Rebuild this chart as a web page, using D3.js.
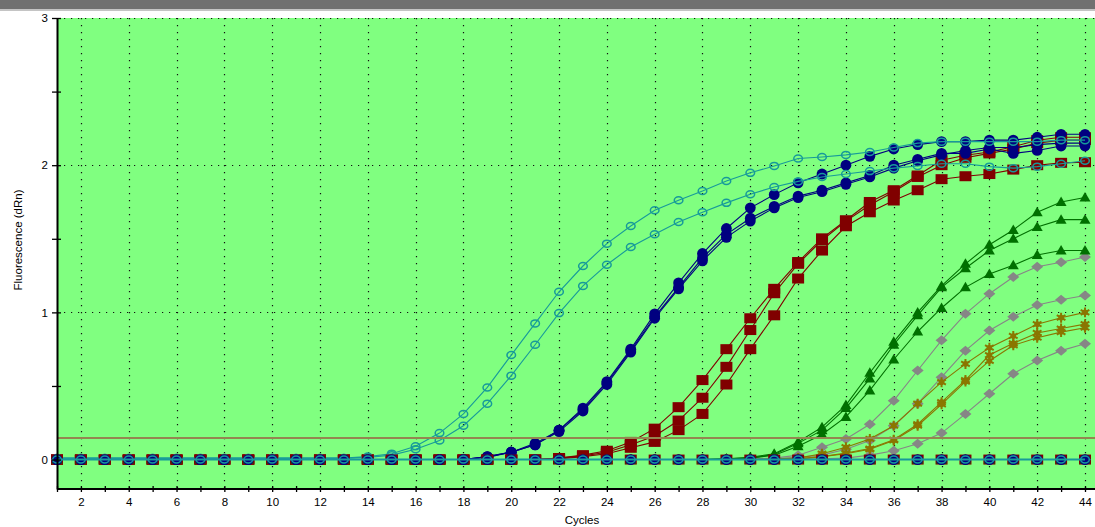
<!DOCTYPE html>
<html>
<head>
<meta charset="utf-8">
<script src="https://cdn.jsdelivr.net/npm/d3@7"></script>
<style>
  html, body { margin: 0; padding: 0; background: #ffffff; }
  svg { display: block; }
  text { font-family: "Liberation Sans", Arial, sans-serif; fill: #000; }
</style>
</head>
<body>
<svg id="chart" width="1095" height="527"></svg>
<script>
// ---------------- DATA ----------------
const cycles = [1,2,3,4,5,6,7,8,9,10,11,12,13,14,15,16,17,18,19,20,21,22,23,24,25,26,27,28,29,30,31,32,33,34,35,36,37,38,39,40,41,42,43,44];
const xTickLabels = [2,4,6,8,10,12,14,16,18,20,22,24,26,28,30,32,34,36,38,40,42,44];
const yTickLabels = [0,1,2,3];
const thresholdValue = 0.146;

const teal1 = [0.01,0.01,0.01,0.01,0.01,0.01,0.01,0.01,0.01,0.01,0.01,0.01,0.01,0.02,0.04,0.09,0.18,0.31,0.49,0.71,0.925,1.14,1.315,1.467,1.587,1.694,1.762,1.825,1.893,1.948,1.995,2.045,2.056,2.07,2.09,2.12,2.15,2.16,2.16,2.16,2.16,2.16,2.17,2.17];
const teal2 = [0.01,0.01,0.01,0.01,0.01,0.01,0.01,0.01,0.01,0.01,0.01,0.01,0.01,0.015,0.03,0.07,0.13,0.23,0.38,0.57,0.78,0.995,1.18,1.324,1.444,1.531,1.614,1.68,1.744,1.803,1.852,1.89,1.92,1.94,1.96,1.98,1.995,2.01,2.01,1.99,1.98,1.99,2.01,2.03];

const navy1 = [0,0,0,0,0,0,0,0,0,0, 0,0,0,0,0,0,0,0, 0.02,0.05,0.11,0.2,0.35,0.53,0.75,0.99,1.2,1.4, 1.57,1.71,1.80,1.88,1.94,2.0,2.06,2.11,2.14,2.16, 2.16,2.17,2.17,2.19,2.21,2.21];
const navy2 = [0,0,0,0,0,0,0,0,0,0, 0,0,0,0,0,0,0,0, 0.02,0.05,0.1,0.2,0.34,0.52,0.74,0.97,1.17,1.37, 1.53,1.64,1.72,1.79,1.83,1.88,1.93,2.0,2.04,2.08, 2.08,2.11,2.08,2.10,2.13,2.13];
const navy3 = [0,0,0,0,0,0,0,0,0,0, 0,0,0,0,0,0,0,0, 0.015,0.05,0.1,0.19,0.33,0.51,0.73,0.96,1.16,1.35, 1.51,1.62,1.71,1.78,1.82,1.87,1.92,1.98,2.03,2.07, 2.1,2.12,2.12,2.14,2.15,2.15];

const red1 = [0,0,0,0,0,0,0,0,0,0, 0,0,0,0,0,0,0,0,0,0, 0, 0.01,0.03,0.06,0.12,0.21,0.356,0.54,0.75,0.96, 1.16,1.342,1.503,1.626,1.75,1.83,1.93,2.034,2.068,2.09, 2.125,2.17,2.19,2.19];
const red2 = [0,0,0,0,0,0,0,0,0,0, 0,0,0,0,0,0,0,0,0,0, 0, 0.01,0.025,0.05,0.1,0.16,0.265,0.42,0.63,0.88, 1.13,1.33,1.49,1.62,1.73,1.82,1.92,2.0,2.05,2.08, 2.11,2.15,2.17,2.17];
const red3 = [0,0,0,0,0,0,0,0,0,0, 0,0,0,0,0,0,0,0,0,0, 0, 0.005,0.02,0.04,0.08,0.12,0.2,0.31,0.51,0.75, 0.98,1.23,1.42,1.585,1.68,1.76,1.83,1.905,1.925,1.94, 1.97,2.0,2.016,2.02];

const green1 = [0,0,0,0,0,0,0,0,0,0, 0,0,0,0,0,0,0,0,0,0, 0,0,0,0,0,0,0,0, 0.005,0.015,0.04,0.12,0.22,0.37,0.59,0.80,1.0,1.18,1.33,1.46,1.56,1.68,1.75,1.78];
const green2 = [0,0,0,0,0,0,0,0,0,0, 0,0,0,0,0,0,0,0,0,0, 0,0,0,0,0,0,0,0, 0.005,0.01,0.035,0.11,0.20,0.35,0.55,0.78,0.98,1.17,1.30,1.42,1.50,1.58,1.63,1.63];
const green3 = [0,0,0,0,0,0,0,0,0,0, 0,0,0,0,0,0,0,0,0,0, 0,0,0,0,0,0,0,0, 0,0.01,0.03,0.09,0.17,0.29,0.47,0.68,0.87,1.03,1.17,1.26,1.32,1.39,1.42,1.42];

const gray1 = [0,0,0,0,0,0,0,0,0,0, 0,0,0,0,0,0,0,0,0,0, 0,0,0,0,0,0,0,0,0, 0.005,0.01,0.03,0.084,0.14,0.24,0.40,0.605,0.81,0.99,1.127,1.24,1.31,1.34,1.376];
const gray2 = [0,0,0,0,0,0,0,0,0,0, 0,0,0,0,0,0,0,0,0,0, 0,0,0,0,0,0,0,0,0, 0,0.005,0.015,0.03,0.07,0.13,0.23,0.38,0.56,0.74,0.877,0.97,1.05,1.086,1.115];
const gray3 = [0,0,0,0,0,0,0,0,0,0, 0,0,0,0,0,0,0,0,0,0, 0,0,0,0,0,0,0,0,0, 0,0,0,0.005,0.01,0.03,0.06,0.107,0.18,0.31,0.447,0.583,0.673,0.74,0.787];

const olive1 = [0,0,0,0,0,0,0,0,0,0, 0,0,0,0,0,0,0,0,0,0, 0,0,0,0,0,0,0,0,0, 0,0.005,0.01,0.04,0.084,0.14,0.23,0.38,0.526,0.65,0.76,0.84,0.92,0.964,1.0];
const olive2 = [0,0,0,0,0,0,0,0,0,0, 0,0,0,0,0,0,0,0,0,0, 0,0,0,0,0,0,0,0,0, 0,0,0.005,0.02,0.045,0.075,0.135,0.24,0.39,0.54,0.71,0.79,0.86,0.89,0.92];
const olive3 = [0,0,0,0,0,0,0,0,0,0, 0,0,0,0,0,0,0,0,0,0, 0,0,0,0,0,0,0,0,0, 0,0,0.005,0.02,0.04,0.07,0.13,0.23,0.375,0.53,0.67,0.776,0.828,0.866,0.896];

// negative controls (flat at zero)
const ntc = [0,0,0,0,0,0,0,0,0,0, 0,0,0,0,0,0,0,0,0,0, 0,0,0,0,0,0,0,0,0,0, 0,0,0,0,0,0,0,0,0,0, 0,0,0,0];

// ---------------- STYLE ----------------
const C = {
  teal: "#179a9a", navy: "#000080", red: "#800000",
  green: "#007000", gray: "#868686", olive: "#8a7600"
};

const series = [
  {v: gray1, c: C.gray, m: "diamond"}, {v: gray2, c: C.gray, m: "diamond"}, {v: gray3, c: C.gray, m: "diamond"},
  {v: olive1, c: C.olive, m: "star"}, {v: olive2, c: C.olive, m: "star"}, {v: olive3, c: C.olive, m: "star"},
  {v: green1, c: C.green, m: "triangle"}, {v: green2, c: C.green, m: "triangle"}, {v: green3, c: C.green, m: "triangle"},
  {v: red1, c: C.red, m: "square"}, {v: red2, c: C.red, m: "square"}, {v: red3, c: C.red, m: "square"},
  {v: navy1, c: C.navy, m: "circle"}, {v: navy2, c: C.navy, m: "circle"}, {v: navy3, c: C.navy, m: "circle"},
  {v: teal1, c: C.teal, m: "open"}, {v: teal2, c: C.teal, m: "open"},
  // negative controls
  {v: ntc, c: C.red, m: "square"},
  {v: ntc, c: C.green, m: "triangle"},
  {v: ntc, c: C.gray, m: "diamond"},
  {v: ntc, c: C.olive, m: "star"},
  {v: ntc, c: C.navy, m: "circle"},
  {v: ntc, c: C.teal, m: "open", lw: 2}
];

// ---------------- CHART ----------------
const svg = d3.select("#chart");
const W = 1095, H = 527;
const pLeft = 57, pTop = 18, pBottom = 489, pRight = 1095;

const x = d3.scaleLinear().domain([1, 44]).range([pLeft, 1085]);
const y = d3.scaleLinear().domain([-0.2, 3]).range([pBottom, pTop]);

// window title strip
svg.append("rect").attr("x", 0).attr("y", 0).attr("width", W).attr("height", 9).attr("fill", "#707070");
svg.append("rect").attr("x", 0).attr("y", 9).attr("width", W).attr("height", 2).attr("fill", "#c4c4c4");

// plot background
svg.append("rect").attr("x", pLeft).attr("y", pTop).attr("width", pRight - pLeft).attr("height", pBottom - pTop).attr("fill", "#80ff80");

// grid
const grid = svg.append("g");
grid.selectAll("line.v").data(xTickLabels).join("line")
  .attr("x1", d => Math.round(x(d)) + 0.5).attr("x2", d => Math.round(x(d)) + 0.5)
  .attr("y1", pTop).attr("y2", pBottom)
  .attr("stroke", "#111").attr("stroke-width", 1.2).attr("stroke-dasharray", "1.2,5.8");
grid.selectAll("line.h").data([1, 2, 3]).join("line")
  .attr("x1", pLeft).attr("x2", pRight)
  .attr("y1", d => Math.round(y(d)) + 0.5).attr("y2", d => Math.round(y(d)) + 0.5)
  .attr("stroke", "#111").attr("stroke-width", 1.2).attr("stroke-dasharray", "1.2,5.8");

// clip for plot
svg.append("clipPath").attr("id", "clip").append("rect")
  .attr("x", pLeft - 6).attr("y", pTop).attr("width", pRight - pLeft + 6).attr("height", pBottom - pTop);

const plot = svg.append("g").attr("clip-path", "url(#clip)");

const line = d3.line().x((d, i) => x(cycles[i])).y(d => y(d));

function drawMarker(g, type, color, cx, cy) {
  if (type === "circle") {
    g.append("circle").attr("cx", cx).attr("cy", cy).attr("r", 5.4).attr("fill", color);
  } else if (type === "square") {
    g.append("rect").attr("x", cx - 6).attr("y", cy - 5).attr("width", 12).attr("height", 10).attr("fill", color);
  } else if (type === "triangle") {
    g.append("path").attr("d", `M${cx},${cy - 5.5}L${cx + 5.5},${cy + 4}L${cx - 5.5},${cy + 4}Z`).attr("fill", color);
  } else if (type === "diamond") {
    g.append("path").attr("d", `M${cx},${cy - 5}L${cx + 6},${cy}L${cx},${cy + 5}L${cx - 6},${cy}Z`).attr("fill", color);
  } else if (type === "star") {
    g.append("path").attr("d", d3.symbol().type(d3.symbolAsterisk).size(70)())
      .attr("transform", `translate(${cx},${cy})`).attr("stroke", color).attr("stroke-width", 2).attr("fill", "none");
    g.append("circle").attr("cx", cx).attr("cy", cy).attr("r", 2.8).attr("fill", color);
  } else if (type === "open") {
    g.append("ellipse").attr("cx", cx).attr("cy", cy).attr("rx", 4.3).attr("ry", 3.5)
      .attr("fill", "none").attr("stroke", color).attr("stroke-width", 1.5);
  }
}

series.forEach(s => {
  const g = plot.append("g");
  g.append("path").datum(s.v).attr("d", line)
    .attr("fill", "none").attr("stroke", s.c).attr("stroke-width", s.lw || 1.1);
  s.v.forEach((v, i) => drawMarker(g, s.m, s.c, x(cycles[i]), y(v)));
});

// threshold line
const ty = Math.round(y(thresholdValue));
svg.append("line").attr("x1", pLeft).attr("x2", pRight)
  .attr("y1", ty).attr("y2", ty)
  .attr("stroke", "#948650").attr("stroke-width", 2);

// axes
const yAxis = d3.axisLeft(y)
  .tickValues([0, 0.5, 1, 1.5, 2, 2.5, 3])
  .tickFormat(d => yTickLabels.includes(d) ? String(d) : "")
  .tickSizeInner(5).tickSizeOuter(0).tickPadding(4);
const gy = svg.append("g").attr("transform", `translate(${pLeft},0)`).call(yAxis);
gy.select(".domain").attr("stroke", "#000").attr("stroke-width", 2);
gy.selectAll(".tick line").attr("x1", 4).attr("stroke-width", 1.3);
gy.selectAll(".tick text").attr("font-size", 11.5).attr("font-family", "Liberation Sans, Arial, sans-serif");

const xAxis = d3.axisBottom(x)
  .tickValues(cycles)
  .tickFormat(d => xTickLabels.includes(d) ? String(d) : "")
  .tickSizeInner(3).tickSizeOuter(0).tickPadding(6);
const gx = svg.append("g").attr("transform", `translate(0,${pBottom})`).call(xAxis);
gx.select(".domain").attr("stroke", "#000").attr("stroke-width", 2).attr("d", `M${pLeft},0H${pRight}`);
gx.selectAll(".tick line").attr("y1", -3).attr("stroke-width", 1.3);
gx.selectAll(".tick text").attr("font-size", 11.5).attr("font-family", "Liberation Sans, Arial, sans-serif");

// axis titles
svg.append("text").attr("x", 582).attr("y", 524).attr("text-anchor", "middle")
  .attr("font-size", 11.5).text("Cycles");
svg.append("text").attr("transform", "translate(22,240) rotate(-90)").attr("text-anchor", "middle")
  .attr("font-size", 11.5).text("Fluorescence (dRn)");
</script>
</body>
</html>
